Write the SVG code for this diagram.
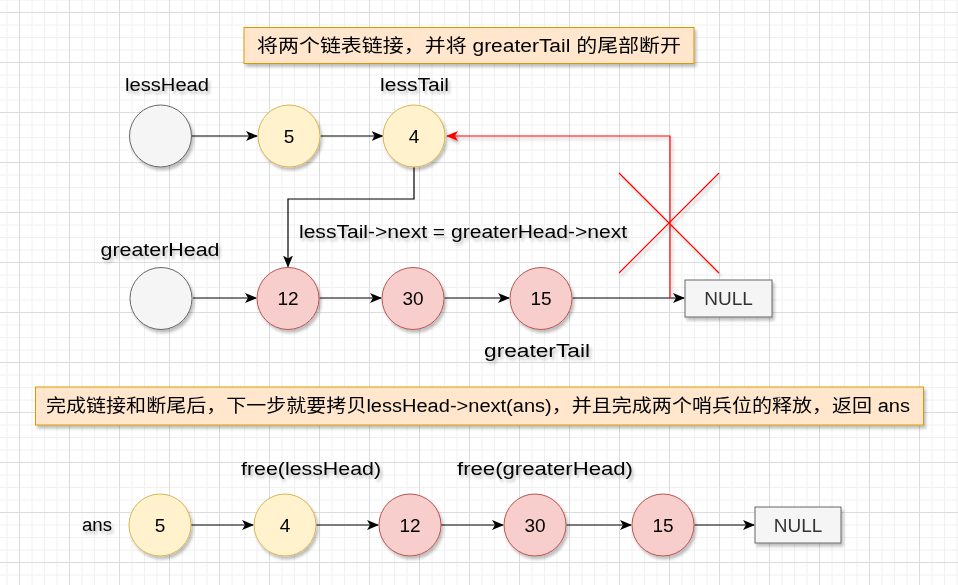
<svg xmlns="http://www.w3.org/2000/svg" width="958" height="585" viewBox="0 0 958 585">
<defs>
<pattern id="grid" x="19" y="12" width="50" height="50" patternUnits="userSpaceOnUse">
<path d="M13 0V50M25.5 0V50M38 0V50M0 13H50M0 25.5H50M0 38H50" stroke="#f0f0f0" stroke-width="1" fill="none"/>
<path d="M0.5 0V50M0 0.5H50" stroke="#dcdcdc" stroke-width="1" fill="none"/>
</pattern>
<filter id="sh" x="-20%" y="-20%" width="150%" height="150%">
<feDropShadow dx="2" dy="3" stdDeviation="1.5" flood-color="#000" flood-opacity="0.25"/>
</filter>
<marker id="ab" viewBox="0 0 12 10" refX="11" refY="5" markerWidth="12" markerHeight="10" markerUnits="userSpaceOnUse" orient="auto">
<path d="M0 0L12 5L0 10L3 5Z" fill="#000"/>
</marker>
<marker id="ar" viewBox="0 0 12 10" refX="11" refY="5" markerWidth="12" markerHeight="10" markerUnits="userSpaceOnUse" orient="auto">
<path d="M0 0L12 5L0 10L3 5Z" fill="#ff0000"/>
</marker>
<style>
text{font-family:"Liberation Sans","Noto Sans CJK SC",sans-serif;font-size:18px;fill:#000;}
.c{text-anchor:middle;dominant-baseline:central;}
.gray{fill:#f5f5f5;stroke:#666666;stroke-width:1;}
.yel{fill:#fff2cc;stroke:#d6b656;stroke-width:1;}
.red{fill:#f8cecc;stroke:#b85450;stroke-width:1;}
.note{fill:#ffe6cc;stroke:#d79b00;stroke-width:1;}
.edge{stroke:#000;stroke-width:1.2;fill:none;marker-end:url(#ab);}
.redl{stroke:#ff0000;stroke-width:1.2;fill:none;}
.null{fill:#333333;font-size:19px;}
.num{font-size:19px;}
</style>
</defs>
<rect width="958" height="585" fill="#ffffff"/>
<rect width="958" height="585" fill="url(#grid)"/>

<g id="connectors">
<path class="edge" d="M192 136H257"/>
<path class="edge" d="M320.5 136H382.5"/>
<path class="edge" d="M414 167V199H288V266.5"/>
<path class="edge" d="M193 298H256"/>
<path class="edge" d="M319.5 298H381"/>
<path class="edge" d="M444.5 298H509"/>
<path class="edge" d="M572.5 298H684"/>
<path class="redl" filter="url(#sh)" d="M670 298V136H447" marker-end="url(#ar)"/>
<path class="edge" d="M191 525H253"/>
<path class="edge" d="M316 525H378"/>
<path class="edge" d="M441 525H503"/>
<path class="edge" d="M566.5 525H631"/>
<path class="edge" d="M694.5 525H754"/>
</g>

<g id="cross" filter="url(#sh)">
<path class="redl" d="M619 173L719 273M619 273L719 173"/>
</g>

<g id="note1" filter="url(#sh)">
<rect class="note" x="244" y="27.5" width="450" height="36"/>
<text class="c" x="469" y="46" textLength="424" lengthAdjust="spacingAndGlyphs">将两个链表链接，并将 greaterTail 的尾部断开</text>
</g>

<g id="lbl-lessHead"><text class="c" x="167" y="85" textLength="84" lengthAdjust="spacingAndGlyphs" filter="url(#sh)">lessHead</text></g>
<g id="lbl-lessTail"><text class="c" x="414.5" y="85" textLength="69" lengthAdjust="spacingAndGlyphs" filter="url(#sh)">lessTail</text></g>

<g id="n-lessHead" filter="url(#sh)"><circle class="gray" cx="160.5" cy="136" r="31"/></g>
<g id="n1-5" filter="url(#sh)"><circle class="yel" cx="289" cy="136" r="31"/><text class="c num" x="289" y="136">5</text></g>
<g id="n1-4" filter="url(#sh)"><circle class="yel" cx="414" cy="136" r="31"/><text class="c num" x="414" y="136">4</text></g>

<g id="lbl-link"><text x="299" y="232" dominant-baseline="central" textLength="328" lengthAdjust="spacingAndGlyphs" filter="url(#sh)">lessTail-&gt;next = greaterHead-&gt;next</text></g>
<g id="lbl-greaterHead"><text class="c" x="160" y="250" textLength="119" lengthAdjust="spacingAndGlyphs" filter="url(#sh)">greaterHead</text></g>

<g id="n-greaterHead" filter="url(#sh)"><circle class="gray" cx="161" cy="298.5" r="31"/></g>
<g id="n2-12" filter="url(#sh)"><circle class="red" cx="288" cy="298.5" r="31"/><text class="c num" x="288" y="298.5">12</text></g>
<g id="n2-30" filter="url(#sh)"><circle class="red" cx="413" cy="298.5" r="31"/><text class="c num" x="413" y="298.5">30</text></g>
<g id="n2-15" filter="url(#sh)"><circle class="red" cx="541" cy="298.5" r="31"/><text class="c num" x="541" y="298.5">15</text></g>
<g id="n2-null" filter="url(#sh)"><rect class="gray" x="685" y="280" width="87" height="37"/><text class="c null" x="728.5" y="298.5">NULL</text></g>
<g id="lbl-greaterTail"><text class="c" x="537" y="351" textLength="106" lengthAdjust="spacingAndGlyphs" filter="url(#sh)">greaterTail</text></g>

<g id="note2" filter="url(#sh)">
<rect class="note" x="35.5" y="387" width="888" height="38"/>
<text class="c" x="478" y="406" textLength="864" lengthAdjust="spacingAndGlyphs">完成链接和断尾后，下一步就要拷贝lessHead-&gt;next(ans)，并且完成两个哨兵位的释放，返回 ans</text>
</g>

<g id="lbl-free1"><text class="c" x="311" y="469" textLength="140" lengthAdjust="spacingAndGlyphs" filter="url(#sh)">free(lessHead)</text></g>
<g id="lbl-free2"><text class="c" x="545" y="469" textLength="176" lengthAdjust="spacingAndGlyphs" filter="url(#sh)">free(greaterHead)</text></g>
<g id="lbl-ans"><text class="c" x="97" y="525" textLength="30" lengthAdjust="spacingAndGlyphs" filter="url(#sh)">ans</text></g>

<g id="n3-5" filter="url(#sh)"><circle class="yel" cx="160" cy="525" r="31"/><text class="c num" x="160" y="525">5</text></g>
<g id="n3-4" filter="url(#sh)"><circle class="yel" cx="285" cy="525" r="31"/><text class="c num" x="285" y="525">4</text></g>
<g id="n3-12" filter="url(#sh)"><circle class="red" cx="410" cy="525" r="31"/><text class="c num" x="410" y="525">12</text></g>
<g id="n3-30" filter="url(#sh)"><circle class="red" cx="535" cy="525" r="31"/><text class="c num" x="535" y="525">30</text></g>
<g id="n3-15" filter="url(#sh)"><circle class="red" cx="663" cy="525" r="31"/><text class="c num" x="663" y="525">15</text></g>
<g id="n3-null" filter="url(#sh)"><rect class="gray" x="755" y="507" width="86" height="36"/><text class="c null" x="798" y="525">NULL</text></g>
</svg>
